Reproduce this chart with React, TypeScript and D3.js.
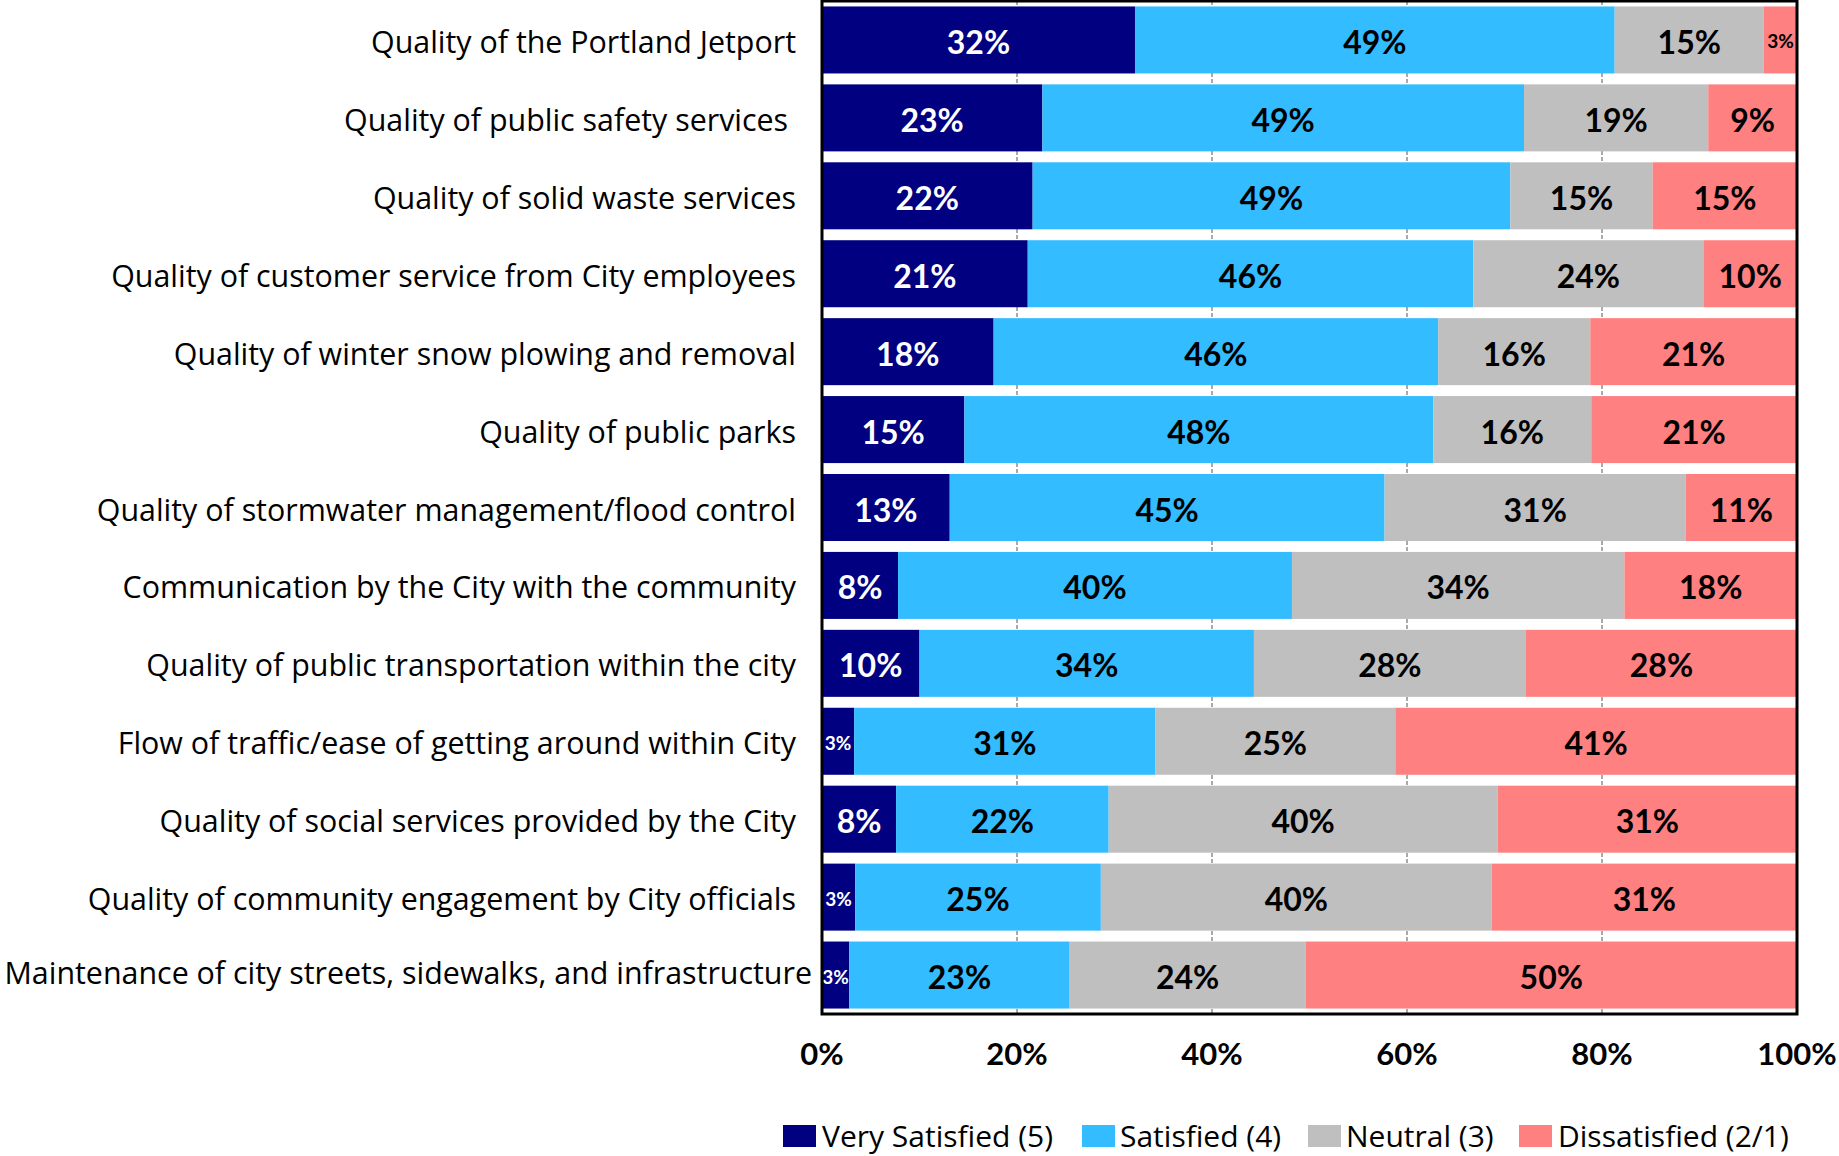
import React from "react";
import * as d3 from "d3";

const categories = [
  "Quality of the Portland Jetport",
  "Quality of public safety services ",
  "Quality of solid waste services",
  "Quality of customer service from City employees",
  "Quality of winter snow plowing and removal",
  "Quality of public parks",
  "Quality of stormwater management/flood control",
  "Communication by the City with the community",
  "Quality of public transportation within the city",
  "Flow of traffic/ease of getting around within City",
  "Quality of social services provided by the City",
  "Quality of community engagement by City officials",
  "Maintenance of city streets, sidewalks, and infrastructure",
];

const verySatisfied = [32.1, 22.6, 21.6, 21.1, 17.6, 14.6, 13.1, 7.8, 10.0, 3.3, 7.6, 3.4, 2.8];
const satisfied = [49.2, 49.4, 49.0, 45.7, 45.6, 48.1, 44.6, 40.4, 34.3, 30.9, 21.8, 25.2, 22.6];
const neutral = [15.3, 18.9, 14.6, 23.6, 15.6, 16.2, 30.9, 34.1, 27.9, 24.6, 39.9, 40.1, 24.2];
const dissatisfied = [3.4, 9.1, 14.8, 9.6, 21.2, 21.1, 11.4, 17.7, 27.8, 41.2, 30.7, 31.3, 50.4];

const seriesKeys = ["vs", "s", "n", "d"];
const seriesNames = ["Very Satisfied (5)", "Satisfied (4)", "Neutral (3)", "Dissatisfied (2/1)"];
const seriesColors = ["#000080", "#33BCFF", "#BFBFBF", "#FF8080"];
const labelColors = ["#FFFFFF", "#000000", "#000000", "#000000"];
const xTicks = [0, 20, 40, 60, 80, 100];

const FONT = "Lato, 'Open Sans', sans-serif";
const TEXT_FONT = "'Open Sans', Lato, sans-serif";

export default function App() {
  const W = 1839;
  const H = 1156;
  const left = 822;
  const right = 1797;
  const top = 1;
  const bottom = 1014;

  const table = categories.map((c, i) => ({
    cat: c,
    vs: verySatisfied[i],
    s: satisfied[i],
    n: neutral[i],
    d: dissatisfied[i],
  }));

  const stacked = d3.stack<any>().keys(seriesKeys)(table);

  const x = d3.scaleLinear().domain([0, 100]).range([left, right]);
  const y = d3
    .scaleBand<string>()
    .domain(categories)
    .range([top, bottom])
    .paddingInner(0.14)
    .paddingOuter(0.07);

  const bw = y.bandwidth();

  const legendItems = [
    { sx: 783, tx: 822 },
    { sx: 1082, tx: 1120 },
    { sx: 1308, tx: 1346 },
    { sx: 1519, tx: 1558 },
  ];

  return (
    <svg
      width={W}
      height={H}
      style={{ position: "absolute", left: 0, top: 0, background: "#fff" }}
      fontFamily={FONT}
    >
      <rect x={0} y={0} width={W} height={H} fill="#fff" />
      {xTicks
        .filter((t) => t > 0 && t < 100)
        .map((t) => (
          <line
            key={"g" + t}
            x1={x(t)}
            x2={x(t)}
            y1={top}
            y2={bottom}
            stroke="#555"
            strokeWidth={1}
            strokeDasharray="4,2"
          />
        ))}
      {stacked.map((layer, si) => (
        <g key={layer.key}>
          {layer.map((d: any, i: number) => {
            const cat = categories[i];
            const x0 = x(d[0]);
            const x1 = x(d[1]);
            const v = d[1] - d[0];
            const small = v < 5;
            const cy = (y(cat) as number) + bw / 2;
            return (
              <g key={cat}>
                <rect
                  x={x0}
                  y={y(cat)}
                  width={x1 - x0}
                  height={bw}
                  fill={seriesColors[si]}
                />
                <text
                  x={(x0 + x1) / 2}
                  y={cy + (small ? 8.5 : 14)}
                  textAnchor="middle"
                  fontWeight="bold"
                  fontSize={small ? 19 : 32}
                  fill={labelColors[si]}
                >
                  {Math.round(v) + "%"}
                </text>
              </g>
            );
          })}
        </g>
      ))}
      {categories.map((c, i) => {
        const isLast = i === categories.length - 1;
        return (
          <text
            key={c}
            x={isLast ? 812 : 796}
            y={(y(c) as number) + bw / 2 + (isLast ? 8.5 : 13)}
            textAnchor="end"
            fontSize={30.4}
            fontFamily={TEXT_FONT}
            fill="#000"
            style={{ whiteSpace: "pre" }}
          >
            {c}
          </text>
        );
      })}
      <rect
        x={left}
        y={top}
        width={right - left}
        height={bottom - top}
        fill="none"
        stroke="#000"
        strokeWidth={3}
      />
      {xTicks.map((t) => (
        <text
          key={"t" + t}
          x={x(t)}
          y={1065}
          textAnchor="middle"
          fontWeight="bold"
          fontSize={31}
          fill="#000"
        >
          {t + "%"}
        </text>
      ))}
      {seriesNames.map((name, i) => (
        <g key={name}>
          <rect x={legendItems[i].sx} y={1125} width={33} height={22} fill={seriesColors[i]} />
          <text x={legendItems[i].tx} y={1147} fontSize={30} fontFamily={TEXT_FONT} fill="#000">
            {name}
          </text>
        </g>
      ))}
    </svg>
  );
}
